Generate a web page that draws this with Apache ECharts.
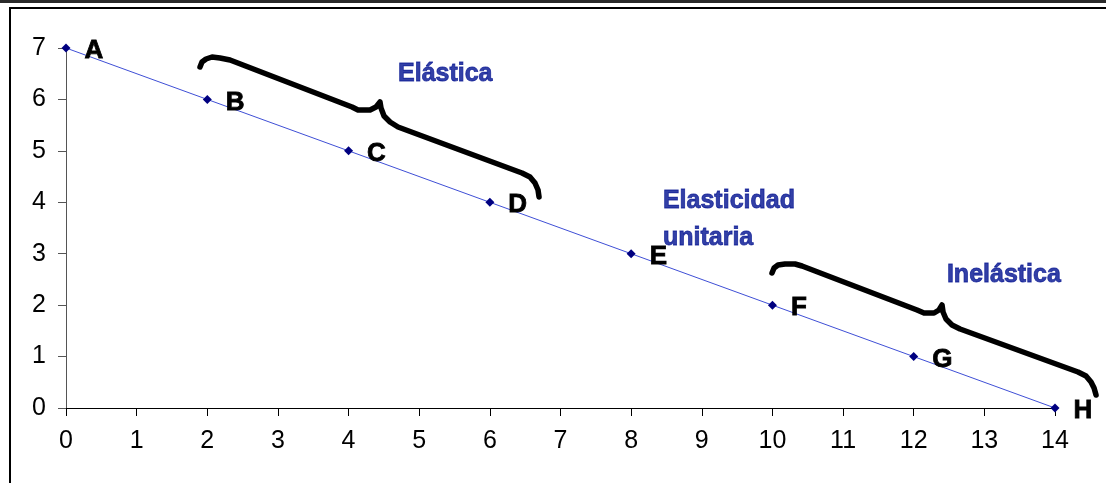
<!DOCTYPE html>
<html>
<head>
<meta charset="utf-8">
<script src="https://cdn.jsdelivr.net/npm/echarts@6/dist/echarts.min.js"></script>
<style>
html,body{margin:0;padding:0;background:#fff;}
#chart{width:1106px;height:483px;}
</style>
</head>
<body>
<div id="chart"></div>
<script>
// Data
var xValues = [0, 2, 4, 6, 8, 10, 12, 14];
var yValues = [7, 6, 5, 4, 3, 2, 1, 0];
var pointLabels = ['A', 'B', 'C', 'D', 'E', 'F', 'G', 'H'];
var xTicks = [0,1,2,3,4,5,6,7,8,9,10,11,12,13,14];
var yTicks = [0,1,2,3,4,5,6,7];

// Brace outlines (data coordinates)
var braceElastic = [[1.897,6.630],[1.925,6.728],[1.982,6.786],[2.067,6.825],[2.180,6.806],[2.322,6.767],
  [4.049,5.853],[4.134,5.794],[4.304,5.794],[4.388,5.853],[4.445,5.950],[4.459,5.833],[4.502,5.678],
  [4.587,5.561],[4.700,5.464],[6.455,4.569],[6.568,4.492],[6.639,4.375],[6.682,4.239],[6.696,4.103]];
var braceInelastic = [[9.994,2.625],[10.023,2.722],[10.079,2.780],[10.178,2.800],[10.320,2.800],[10.419,2.761],
  [12.047,1.906],[12.146,1.847],[12.288,1.847],[12.358,1.906],[12.401,2.003],[12.415,1.867],[12.457,1.731],
  [12.542,1.614],[12.656,1.536],[14.326,0.700],[14.439,0.622],[14.510,0.506],[14.553,0.389],[14.581,0.253]];

// Annotation texts and their anchor (data coordinates, left edge / vertical centre)
var annotationTexts = ['Elástica', 'Elasticidad\nunitaria', 'Inelástica'];
var annotationX = [4.70, 8.45, 12.47];
var annotationY = [6.49, 3.66, 2.59];

var chart = echarts.init(document.getElementById('chart'));
var pts = xValues.map(function (x, i) { return [x, yValues[i]]; });
var annData = annotationTexts.map(function (t, i) { return { value: [annotationX[i], annotationY[i]], name: t }; });
var braces = [braceElastic, braceInelastic];

var option = {
  backgroundColor: '#fff',
  animation: false,
  grid: { left: 66, right: 51, top: 48, bottom: 75, containLabel: false },
  xAxis: {
    type: 'value', min: 0, max: 14, interval: 1,
    axisLine: { show: true, onZero: false, lineStyle: { color: '#000', width: 1 } },
    axisTick: { show: true, inside: false, length: 8, lineStyle: { color: '#000' } },
    axisLabel: { fontFamily: 'Liberation Sans', fontSize: 25, color: '#000', margin: 21,
      formatter: function (v) { return xTicks.indexOf(v) >= 0 ? String(v) : ''; } },
    splitLine: { show: false }
  },
  yAxis: {
    type: 'value', min: 0, max: 7, interval: 1,
    axisLine: { show: true, onZero: false, lineStyle: { color: '#555', width: 1 } },
    axisTick: { show: true, inside: false, length: 8, lineStyle: { color: '#555' } },
    axisLabel: { fontFamily: 'Liberation Sans', fontSize: 25, color: '#000', margin: 20,
      formatter: function (v) { return yTicks.indexOf(v) >= 0 ? String(v) : ''; } },
    splitLine: { show: false }
  },
  series: [
    {
      type: 'line', data: pts, clip: false,
      lineStyle: { color: '#3f4fd6', width: 1 },
      symbol: 'diamond', symbolSize: 9,
      itemStyle: { color: '#000080' },
      label: {
        show: true, position: 'right', distance: 14,
        fontFamily: 'Liberation Sans', fontWeight: 'bold', fontSize: 26, color: '#000',
        textBorderColor: '#000', textBorderWidth: 0.8,
        offset: [0, 3],
        formatter: function (p) { return pointLabels[p.dataIndex]; }
      }
    },
    {
      type: 'custom', clip: false, z: 3,
      data: [0, 1],
      renderItem: function (params, api) {
        var b = braces[params.dataIndex];
        var p = b.map(function (c) { return api.coord(c); });
        return {
          type: 'polyline',
          shape: { points: p, smooth: 0 },
          style: { stroke: '#000', lineWidth: 5.5, fill: null, lineJoin: 'round', lineCap: 'round' }
        };
      }
    },
    {
      type: 'scatter', data: annData, symbolSize: 0, clip: false,
      label: {
        show: true, position: 'right', distance: 0,
        fontFamily: 'Liberation Sans', fontWeight: 'bold', fontSize: 25, lineHeight: 37,
        color: '#001090', align: 'left',
        textBorderColor: '#001090', textBorderWidth: 0.8,
        formatter: function (p) { return p.name; }
      }
    }
  ],
  graphic: [
    { type: 'rect', shape: { x: 0, y: 0, width: 1106, height: 3 }, style: { fill: '#2a2a2a' }, silent: true },
    { type: 'line', shape: { x1: 9, y1: 8, x2: 1106, y2: 8 }, style: { stroke: '#000', lineWidth: 2 }, silent: true },
    { type: 'line', shape: { x1: 10, y1: 8, x2: 10, y2: 483 }, style: { stroke: '#000', lineWidth: 2 }, silent: true }
  ]
};
chart.setOption(option);
</script>
</body>
</html>
